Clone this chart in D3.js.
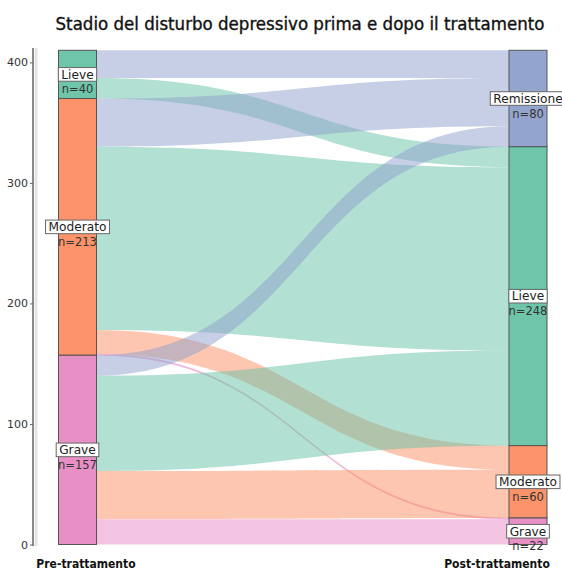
<!DOCTYPE html>
<html><head><meta charset="utf-8">
<script src="https://cdn.jsdelivr.net/npm/d3@7"></script>
<style>body{margin:0;background:#fff}</style>
</head><body>
<script>
const preLevels = ["Lieve","Moderato","Grave"];
const postLevels = ["Remissione","Lieve","Moderato","Grave"];
// flows: rows = pre level, columns = post level
const flowLieve    = [23, 17, 0, 0];
const flowModerato = [40, 152, 20, 1];
const flowGrave    = [17, 79, 40, 21];
const flowMatrix = [flowLieve, flowModerato, flowGrave];
const yTicks = [0, 100, 200, 300, 400];
const axisLabels = ["Pre-trattamento", "Post-trattamento"];
const title = "Stadio del disturbo depressivo prima e dopo il trattamento";
const colors = {Remissione:"#8DA0CB", Lieve:"#66C2A5", Moderato:"#FC8D62", Grave:"#E78AC3"};

const W = 562, H = 571;
const svg = d3.select("body").append("svg").attr("width", W).attr("height", H);

const total = d3.sum(flowMatrix.flat());
const y = d3.scaleLinear().domain([0, 410]).range([544.5, 50.3]);
const x = d3.scalePoint().domain([0, 1]).range([77.5, 528]);
const bw = 38;

function strata(levels, sums) {
  let cum = total;
  return levels.map((l, i) => {
    const top = cum; cum -= sums[i];
    return {name: l, n: sums[i], top, bot: cum};
  });
}
const preSums = flowMatrix.map(r => d3.sum(r));
const postSums = postLevels.map((_, j) => d3.sum(flowMatrix, r => r[j]));
const preStrata = strata(preLevels, preSums);
const postStrata = strata(postLevels, postSums);

const flows = [];
const preCursor = preStrata.map(s => s.top);
const postCursor = postStrata.map(s => s.top);
for (let i = 0; i < preLevels.length; i++) {
  for (let j = 0; j < postLevels.length; j++) {
    const v = flowMatrix[i][j];
    if (!v) continue;
    flows.push({i, j, v, l0: preCursor[i], l1: preCursor[i] - v});
    preCursor[i] -= v;
  }
}
for (let j = 0; j < postLevels.length; j++) {
  for (let i = 0; i < preLevels.length; i++) {
    const f = flows.find(f => f.i === i && f.j === j);
    if (!f) continue;
    f.r0 = postCursor[j]; f.r1 = postCursor[j] - f.v; postCursor[j] -= f.v;
  }
}

// axis
const ax = svg.append("g").attr("transform", "translate(33,0)")
  .call(d3.axisLeft(y).tickValues(yTicks).tickSize(3).tickSizeOuter(0));
ax.select(".domain").remove();
ax.append("line").attr("x1", 0).attr("x2", 0).attr("y1", 48).attr("y2", 546).attr("stroke", "#666").attr("stroke-width", 1.5);
ax.append("line").attr("x1", 3).attr("x2", 3).attr("y1", 48).attr("y2", 546).attr("stroke", "#e6e6e6").attr("stroke-width", 3);
ax.selectAll(".tick line").attr("stroke", "#666");
ax.selectAll(".tick text").attr("font-family", "DejaVu Sans, Verdana, sans-serif").attr("font-size", 11).attr("fill", "#333").attr("x", -5);

const xl = x(0) + bw / 2, xr = x(1) - bw / 2;
const xm = (xl + xr) / 2;
function flowPath(f) {
  const a0 = y(f.l0), a1 = y(f.l1), b0 = y(f.r0), b1 = y(f.r1);
  return `M${xl},${a0}C${xm},${a0} ${xm},${b0} ${xr},${b0}L${xr},${b1}C${xm},${b1} ${xm},${a1} ${xl},${a1}Z`;
}
svg.append("g").selectAll("path").data(flows).join("path")
  .attr("d", flowPath)
  .attr("fill", d => colors[postLevels[d.j]])
  .attr("fill-opacity", 0.5)
  .attr("stroke", d => d.v < 3 ? colors[postLevels[d.j]] : "none")
  .attr("stroke-opacity", 0.6).attr("stroke-width", 0.6);

function drawStrata(list, xc) {
  const g = svg.append("g");
  g.selectAll("rect").data(list).join("rect")
    .attr("x", xc - bw / 2).attr("width", bw)
    .attr("y", d => y(d.top)).attr("height", d => y(d.bot) - y(d.top))
    .attr("fill", d => colors[d.name]).attr("fill-opacity", 0.95)
    .attr("stroke", "#555").attr("stroke-width", 1);
  list.forEach(d => {
    const cy = (y(d.top) + y(d.bot)) / 2;
    const lg = svg.append("g");
    const t = lg.append("text").attr("x", xc).attr("y", cy + 4.3).attr("text-anchor", "middle")
      .attr("font-family", "DejaVu Sans, Verdana, sans-serif").attr("font-size", 12.2).attr("fill", "#222").text(d.name);
    const w = t.node().getComputedTextLength();
    lg.insert("rect", "text").attr("x", xc - w / 2 - 3).attr("y", cy - 6.8).attr("width", w + 6).attr("height", 13.6)
      .attr("fill", "#fff").attr("stroke", "#666").attr("stroke-width", 1);
    svg.append("text").attr("x", xc).attr("y", cy + 19).attr("text-anchor", "middle")
      .attr("font-family", "DejaVu Sans, Verdana, sans-serif").attr("font-size", 11.5).attr("fill", "#333").text("n=" + d.n);
  });
}
drawStrata(preStrata, x(0));
drawStrata(postStrata, x(1));

svg.selectAll(".xlab").data(axisLabels).join("text")
  .attr("x", (d, i) => [86, 497][i]).attr("y", 568).attr("text-anchor", "middle")
  .attr("font-family", "DejaVu Sans Condensed, DejaVu Sans, sans-serif").attr("font-weight", "bold")
  .attr("font-size", 12).attr("fill", "#111").text(d => d);

svg.append("text").attr("x", 300).attr("y", 30).attr("text-anchor", "middle")
  .attr("font-family", "DejaVu Sans Condensed, DejaVu Sans, sans-serif").attr("font-size", 18.5)
  .attr("fill", "#111").attr("stroke", "#111").attr("stroke-width", 0.35)
  .text(title);
</script>
</body></html>
